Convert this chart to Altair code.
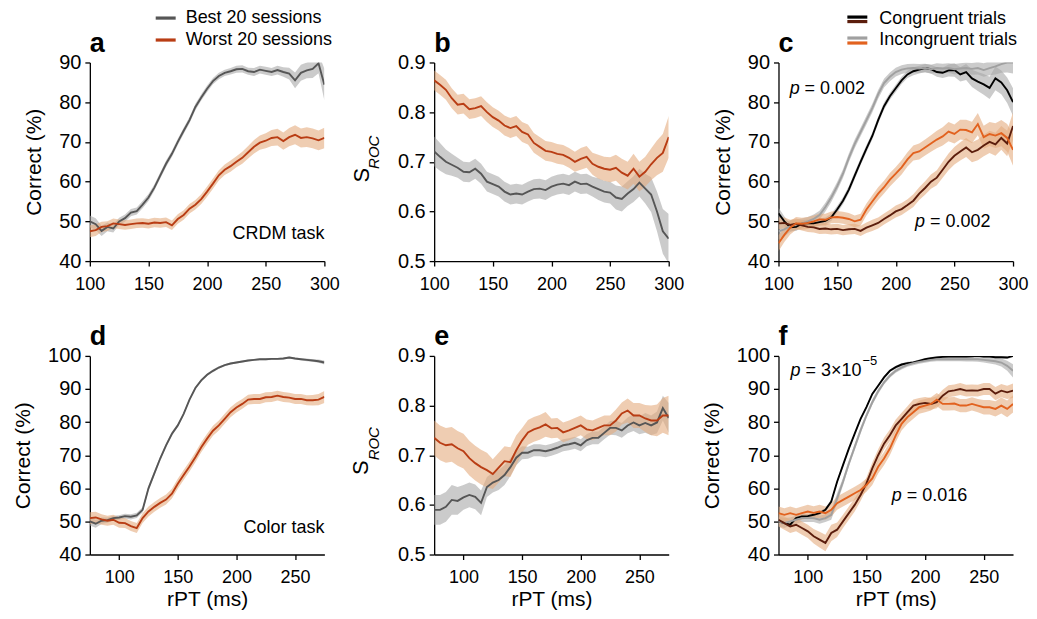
import altair as alt
import pandas as pd

FONT = "Liberation Sans"
W, H = 235, 199

X_TOP = list(range(100, 301, 5))
X_BOT = list(range(75, 276, 5))

# ---------- panel a (CRDM, correct %) ----------
A_BEST = [50, 49.3, 47.6, 48.6, 48.2, 50, 50.8, 52.2, 52.6, 54.2, 56, 58.5, 61.5, 64.5, 67, 70, 72.8, 75.5,
          78.8, 81.2, 83.4, 85.3, 86.6, 87.4, 87.8, 88.3, 88.4, 87.8, 87.6, 88.2, 87.9, 87.6, 88.1, 87.6, 87.2,
          85.5, 87.4, 88, 88.4, 89.8, 84.4]
A_BEST_E = [1.5, 1.5, 1.3, 1.1, 1.0, 0.9, 0.9, 0.9, 0.9, 0.9, 0.9, 0.8, 0.8, 0.8, 0.8, 0.8, 0.8, 0.8, 0.8, 0.8,
            0.8, 0.8, 0.8, 0.8, 0.8, 0.9, 0.9, 0.9, 1.0, 1.0, 1.0, 1.0, 1.1, 1.2, 1.5, 2.0, 2.0, 2.0, 2.3, 2.5, 4.0]
A_WORST = [47.5, 47.8, 48.6, 48.8, 49.5, 49.3, 49.1, 49.3, 49.5, 49.6, 49.4, 49.7, 49.6, 49.8, 49.0, 50.6, 51.6,
           53.2, 54.2, 55.6, 57.5, 59.5, 61.6, 63, 63.9, 65, 66, 67.4, 68.8, 69.8, 70.3, 71, 71.2, 70.2, 71.2,
           71.8, 71, 71.2, 70.9, 70.4, 71]
A_WORST_E = [1.5, 1.5, 1.3, 1.2, 1.2, 1.2, 1.2, 1.2, 1.2, 1.2, 1.2, 1.2, 1.2, 1.2, 1.2, 1.2, 1.2, 1.2, 1.2, 1.2,
             1.3, 1.3, 1.3, 1.3, 1.4, 1.4, 1.5, 1.6, 1.7, 1.8, 1.9, 2.0, 2.1, 2.2, 2.3, 2.4, 2.4, 2.5, 2.5, 2.5, 2.6]

# ---------- panel b (CRDM, S_ROC) ----------
B_WORST = [0.864, 0.855, 0.845, 0.828, 0.815, 0.817, 0.806, 0.808, 0.812, 0.800, 0.790, 0.783, 0.773, 0.768,
           0.772, 0.760, 0.755, 0.738, 0.730, 0.722, 0.720, 0.716, 0.714, 0.708, 0.700, 0.706, 0.710, 0.696,
           0.690, 0.686, 0.684, 0.688, 0.678, 0.672, 0.686, 0.670, 0.680, 0.695, 0.708, 0.718, 0.750]
B_WORST_E = [0.02] * 25 + [0.022, 0.022, 0.022, 0.024, 0.024, 0.025, 0.026, 0.028, 0.028, 0.03, 0.03, 0.03,
                           0.032, 0.035, 0.038, 0.042]
B_BEST = [0.721, 0.710, 0.700, 0.694, 0.688, 0.680, 0.679, 0.686, 0.676, 0.660, 0.655, 0.650, 0.640, 0.634,
          0.636, 0.634, 0.640, 0.645, 0.646, 0.643, 0.650, 0.654, 0.656, 0.653, 0.660, 0.655, 0.656, 0.650,
          0.645, 0.640, 0.638, 0.628, 0.625, 0.636, 0.645, 0.658, 0.646, 0.634, 0.600, 0.560, 0.545]
B_BEST_E = [0.03, 0.028, 0.025, 0.022] + [0.02] * 24 + [0.022, 0.022, 0.022, 0.024, 0.025, 0.025, 0.026,
                                                        0.028, 0.03, 0.035, 0.04, 0.045, 0.05]

# ---------- panel c (CRDM, congruent / incongruent) ----------
C_BEST_CON = [52, 50, 48.5, 48.6, 49.4, 49.6, 49.5, 49.8, 50.1, 51, 53, 55.2, 58, 61.5, 65, 68.3, 71.5, 75.5,
              79, 81.5, 83.5, 85.5, 87, 87.8, 88.2, 88.6, 88.3, 87.6, 87.4, 88, 88.1, 87, 87.6, 86, 85.2, 84.5,
              83.6, 86, 85, 83, 80]
C_BEST_CON_E = [1.5, 1.2, 1, 1] + [0.9] * 19 + [1, 1, 1, 1.1, 1.2, 1.3, 1.5, 1.7, 1.8, 2, 2.2, 2.4, 2.6, 2.8,
                                                3, 3, 3.2, 3.5]
C_BEST_INC = [47.5, 48, 48.8, 49.2, 49.5, 50, 50.6, 51.6, 53.6, 56, 58.8, 62, 66, 69.5, 72.5, 75.5, 78.5, 82,
              84.8, 86.4, 87.6, 88.2, 88.5, 88.6, 88.5, 88.6, 88.3, 88.6, 88.5, 88.6, 88.3, 88.5, 88.6, 88.4,
              88.6, 88.1, 88.6, 89, 89.6, 90, 90]
C_BEST_INC_E = [2, 1.8, 1.5, 1.3, 1.2] + [1.1] * 22 + [1.2, 1.2, 1.2, 1.3, 1.3, 1.4, 1.5, 1.6, 1.7, 1.8, 2,
                                                       2.2, 2.5, 2.8]
C_WORST_CON = [49.5, 49.6, 49.1, 49.4, 49, 48.6, 48.5, 48.1, 48.2, 48, 48.1, 47.8, 48, 48.1, 47.6, 48.4, 49,
               49.6, 50.6, 51.5, 52.5, 53.1, 54.1, 55.2, 57, 58.4, 60, 61, 63, 65, 66.5, 67.6, 68.6, 67.4, 68,
               69.1, 70, 69.4, 71, 69.6, 74]
C_WORST_CON_E = [1.5, 1.4] + [1.3] * 14 + [1.4, 1.4, 1.4, 1.4, 1.5, 1.5, 1.5, 1.6, 1.6, 1.7, 1.8, 1.9, 2, 2.1,
                                           2.2, 2.3, 2.4, 2.5, 2.6, 2.7, 2.8, 2.9, 3, 3.2, 3.5]
C_WORST_INC = [44.5, 46.6, 48.4, 49.5, 49.4, 49.6, 50, 50.5, 50.4, 51, 51.1, 50.9, 50.6, 50, 50.4, 53, 55, 57,
               58.6, 60.5, 62, 63.6, 65.6, 67.2, 67.6, 68.6, 69.6, 70.6, 71.4, 72.6, 72, 73.1, 73, 72.4, 74.5,
               71.2, 72, 71.6, 72.2, 71, 68]
C_WORST_INC_E = [2, 1.8, 1.7, 1.6] + [1.5] * 12 + [1.6, 1.6, 1.6, 1.7, 1.7, 1.8, 1.8, 1.9, 2, 2, 2.1, 2.2, 2.3,
                                                  2.4, 2.4, 2.5, 2.6, 2.7, 2.8, 2.9, 3, 3.1, 3.3, 3.5, 4]

# ---------- panel d (Color, correct %) ----------
D_BEST = [50, 49.3, 50.2, 50.4, 51, 51.2, 51.6, 51.4, 51.8, 53.5, 60, 64.5, 69, 73, 76.5, 79, 82.5, 86.8, 90.3,
          92.6, 94.3, 95.5, 96.5, 97.2, 97.7, 98, 98.3, 98.6, 98.8, 99, 99, 99.1, 99.1, 99.2, 99.5, 99.2, 99,
          98.8, 98.6, 98.4, 98]
D_BEST_E = [1.2, 1.2, 1, 0.8, 0.7, 0.7, 0.7, 0.8, 0.8, 0.8, 0.8, 0.7, 0.6, 0.6, 0.6, 0.5, 0.5] + [0.4] * 6 + \
           [0.3] * 14 + [0.4, 0.4, 0.5, 0.6]
D_WORST = [51, 51.2, 50.6, 50.2, 50.5, 49.6, 49.5, 48.6, 48, 51, 53, 54.4, 55.6, 56.6, 58.4, 61.4, 64, 66.6,
           69.4, 72.4, 75, 77.4, 79, 81, 83, 84.4, 85.5, 86.8, 87, 87, 87.5, 87.6, 88, 87.6, 87.4, 87, 87, 86.6,
           86.6, 86.8, 87.6]
D_WORST_E = [1.8, 1.7, 1.6] + [1.5] * 35 + [1.6, 1.7, 1.8]

# ---------- panel e (Color, S_ROC) ----------
E_WORST = [0.735, 0.725, 0.720, 0.722, 0.714, 0.708, 0.694, 0.684, 0.676, 0.670, 0.662, 0.675, 0.688, 0.686,
           0.710, 0.730, 0.746, 0.752, 0.756, 0.762, 0.754, 0.755, 0.746, 0.750, 0.755, 0.760, 0.752, 0.750,
           0.755, 0.760, 0.760, 0.770, 0.784, 0.790, 0.780, 0.780, 0.774, 0.770, 0.770, 0.780, 0.780]
E_WORST_E = [0.035] * 10 + [0.03] * 5 + [0.025] * 5 + [0.02] * 11 + [0.022, 0.022, 0.024, 0.025, 0.025, 0.027,
                                                                   0.03, 0.032, 0.035, 0.04]
E_BEST = [0.590, 0.590, 0.596, 0.610, 0.608, 0.615, 0.620, 0.616, 0.604, 0.636, 0.645, 0.650, 0.660, 0.676,
          0.695, 0.705, 0.705, 0.710, 0.710, 0.708, 0.711, 0.715, 0.720, 0.722, 0.725, 0.720, 0.730, 0.735,
          0.735, 0.745, 0.755, 0.755, 0.750, 0.760, 0.766, 0.760, 0.765, 0.760, 0.766, 0.795, 0.775]
E_BEST_E = [0.03, 0.03, 0.03, 0.03, 0.028, 0.025, 0.025, 0.025, 0.025, 0.02, 0.02, 0.02, 0.02, 0.018, 0.015,
            0.013] + [0.012] * 11 + [0.013, 0.013, 0.013, 0.014, 0.015, 0.015, 0.016, 0.017, 0.018, 0.02, 0.02,
                                     0.022, 0.025, 0.03]

# ---------- panel f (Color, congruent / incongruent) ----------
F_BEST_CON = [50, 49.5, 49, 51, 51.5, 51.6, 52, 52.5, 53.5, 56, 62, 67, 72, 76.5, 81, 84.5, 88.5, 91, 93.5,
              95.5, 96.6, 97.4, 97.8, 98, 98.5, 99, 99.3, 99.5, 99.7, 99.8, 99.8, 99.8, 99.8, 99.9, 100, 99.8,
              99.8, 99.6, 99.6, 99.5, 100]
F_BEST_CON_E = [0.6] * 12 + [0.4] * 29
F_BEST_INC = [50, 49.5, 50, 50.5, 51, 51, 51, 50.5, 51, 52, 57, 62, 67.5, 72.5, 77.5, 82, 86, 89.3, 92, 94,
              95.5, 96.5, 97.3, 97.8, 98.2, 98.5, 98.8, 99, 99, 99, 99, 99, 99, 99, 99, 98.8, 98.6, 98.4, 98, 97,
              95.5]
F_BEST_INC_E = [1.5, 1.5] + [1.2] * 7 + [1.5, 1.5, 1.2, 1, 1, 1, 0.8, 0.8, 0.8] + [0.6] * 14 + \
               [0.7, 0.7, 0.8, 0.8, 0.9, 1, 1.2, 1.5, 2]
F_WORST_CON = [50.5, 49.5, 48.5, 49, 48, 47, 45.5, 44.5, 43.5, 46.5, 47.5, 50, 52.5, 55, 58, 61.5, 66, 70, 73.5,
               76, 79, 81, 83, 85, 85.5, 85.8, 85.5, 86, 88, 89.3, 89.6, 90, 89.5, 89.6, 89.5, 90, 90, 88.6,
               89.5, 89, 89.5]
F_WORST_CON_E = [2] * 6 + [2.2, 2.4, 2.5, 2.5, 2.2, 2, 2, 2] + [1.8] * 23 + [2, 2, 2, 2.2]
F_WORST_INC = [52.5, 52, 52.5, 52, 52.5, 53, 52.6, 53, 52.5, 53.5, 55.5, 56.5, 57.5, 58.5, 59.5, 61, 63, 66.5,
               69, 72, 76, 79.5, 81.5, 83, 84.5, 85, 85.5, 86.8, 85.5, 85.5, 85.6, 85, 85, 85.5, 85, 84.5, 84.5,
               84, 85, 84, 85.5]
F_WORST_INC_E = [2] * 35 + [2.2, 2.2, 2.3, 2.4, 2.5, 2.6]

# ---------- colours ----------
GRAY_LINE = "#565656"
RED_LINE = "#b93d14"
BLACK = "#000000"
LGRAY = "#a0a0a0"
BROWN = "#5b1d0c"
ORANGE = "#e2621f"
GRAY_BAND = "#a8a8a8"
PEACH_BAND = "#e4ab7e"


def make_df(xs, ys, hw):
    return pd.DataFrame({
        "x": xs,
        "y": ys,
        "lo": [round(y - h, 4) for y, h in zip(ys, hw)],
        "hi": [round(y + h, 4) for y, h in zip(ys, hw)],
    })


def one(**kw):
    return pd.DataFrame({k: [v] for k, v in kw.items()})


def note(x, y, t, dx=0, dy=0, size=18, italic=False, align="left"):
    return dict(x=x, y=y, t=t, dx=dx, dy=dy, size=size, italic=italic, align=align)


def pix_text(px, py, txt, size=18, italic=False, angle=0, align="left"):
    kw = dict(fontSize=size, fontStyle="italic" if italic else "normal", align=align,
              baseline="middle", font=FONT, color="black")
    if angle:
        kw["angle"] = angle
    return alt.Chart(one(t=txt)).mark_text(**kw).encode(x=alt.value(px), y=alt.value(py), text="t:N")


def pix_rule(x1, x2, py, color):
    return alt.Chart(one(t=0)).mark_rule(color=color, strokeWidth=3.2).encode(
        x=alt.value(x1), x2=alt.value(x2), y=alt.value(py))


def panel(series, xs, xdom, xvals, ydom, yvals, yfmt, ytitle, xtitle, letter, notes=(), extras=()):
    xsc = alt.Scale(domain=xdom, nice=False, zero=False)
    ysc = alt.Scale(domain=ydom, nice=False, zero=False)
    xax = alt.Axis(values=xvals, title=xtitle, format="d")
    yax = alt.Axis(values=yvals, title=ytitle, format=yfmt)

    def X():
        return alt.X("x:Q", scale=xsc, axis=xax)

    def Y(f):
        return alt.Y(f + ":Q", scale=ysc, axis=yax)

    bands, lines = [], []
    for ys, hw, lc, bc in series:
        df = make_df(xs, ys, hw)
        bands.append(alt.Chart(df).mark_area(color=bc, opacity=0.6, clip=True)
                     .encode(x=X(), y=Y("lo"), y2="hi:Q"))
        lines.append(alt.Chart(df).mark_line(color=lc, strokeWidth=1.9, clip=True)
                     .encode(x=X(), y=Y("y")))
    layers = bands + lines
    for n in notes:
        layers.append(alt.Chart(one(x=n["x"], y=n["y"], t=n["t"])).mark_text(
            fontSize=n["size"], align=n["align"], baseline="middle", font=FONT,
            fontStyle="italic" if n["italic"] else "normal", color="black", dx=n["dx"], dy=n["dy"])
            .encode(x=X(), y=Y("y"), text="t:N"))
    layers.append(alt.Chart(one(t=letter)).mark_text(
        fontSize=27, fontWeight="bold", align="left", baseline="alphabetic", font=FONT, color="black")
        .encode(x=alt.value(0), y=alt.value(-11), text="t:N"))
    layers += list(extras)
    return alt.layer(*layers).properties(width=W, height=H)


TOPX = [100, 150, 200, 250, 300]
BOTX = [100, 150, 200, 250]
DT = [100, 300]
DB = [75, 275]
Y_PCT_TOP = [40, 50, 60, 70, 80, 90]
Y_PCT_BOT = [40, 50, 60, 70, 80, 90, 100]
Y_ROC = [0.5, 0.6, 0.7, 0.8, 0.9]

# panel a
pa = panel([(A_BEST, A_BEST_E, GRAY_LINE, GRAY_BAND), (A_WORST, A_WORST_E, RED_LINE, PEACH_BAND)],
           X_TOP, DT, TOPX, [40, 90], Y_PCT_TOP, "d", "Correct (%)", None, "a",
           notes=[note(300, 46.8, "CRDM task", align="right")],
           extras=[pix_rule(66, 86, -44.5, GRAY_LINE), pix_text(96, -44.5, "Best 20 sessions"),
                   pix_rule(66, 86, -22.5, RED_LINE), pix_text(96, -22.5, "Worst 20 sessions")])

# panel b
pb = panel([(B_BEST, B_BEST_E, GRAY_LINE, GRAY_BAND), (B_WORST, B_WORST_E, RED_LINE, PEACH_BAND)],
           X_TOP, DT, TOPX, [0.5, 0.9], Y_ROC, ".1f", None, None, "b",
           extras=[pix_text(-72, 113, "S", size=22, angle=270, align="center"),
                   pix_text(-60, 90, "ROC", size=15, italic=True, angle=270, align="center")])

# panel c
pc = panel([(C_BEST_CON, C_BEST_CON_E, BLACK, GRAY_BAND), (C_BEST_INC, C_BEST_INC_E, LGRAY, GRAY_BAND),
            (C_WORST_CON, C_WORST_CON_E, BROWN, PEACH_BAND), (C_WORST_INC, C_WORST_INC_E, ORANGE, PEACH_BAND)],
           X_TOP, DT, TOPX, [40, 90], Y_PCT_TOP, "d", "Correct (%)", None, "c",
           notes=[note(109.5, 83.2, "p", italic=True), note(109.5, 83.2, "= 0.002", dx=15),
                  note(216.5, 49.8, "p", italic=True), note(216.5, 49.8, "= 0.002", dx=15)],
           extras=[pix_rule(69, 89, -45.5, BLACK), pix_rule(69, 89, -41, BROWN),
                   pix_text(101, -44, "Congruent trials"),
                   pix_rule(69, 89, -24.5, LGRAY), pix_rule(69, 89, -19.5, ORANGE),
                   pix_text(101, -23, "Incongruent trials")])

# panel d
pd_ = panel([(D_BEST, D_BEST_E, GRAY_LINE, GRAY_BAND), (D_WORST, D_WORST_E, RED_LINE, PEACH_BAND)],
            X_BOT, DB, BOTX, [40, 100], Y_PCT_BOT, "d", "Correct (%)", "rPT (ms)", "d",
            notes=[note(275, 48, "Color task", align="right")])

# panel e
pe = panel([(E_BEST, E_BEST_E, GRAY_LINE, GRAY_BAND), (E_WORST, E_WORST_E, RED_LINE, PEACH_BAND)],
           X_BOT, DB, BOTX, [0.5, 0.9], Y_ROC, ".1f", None, "rPT (ms)", "e",
           extras=[pix_text(-73, 112, "S", size=22, angle=270, align="center"),
                   pix_text(-60, 88, "ROC", size=15, italic=True, angle=270, align="center")])

# panel f
pf = panel([(F_BEST_CON, F_BEST_CON_E, BLACK, GRAY_BAND), (F_BEST_INC, F_BEST_INC_E, LGRAY, GRAY_BAND),
            (F_WORST_CON, F_WORST_CON_E, BROWN, PEACH_BAND), (F_WORST_INC, F_WORST_INC_E, ORANGE, PEACH_BAND)],
           X_BOT, DB, BOTX, [40, 100], Y_PCT_BOT, "d", "Correct (%)", "rPT (ms)", "f",
           notes=[note(85.3, 95.5, "p", italic=True), note(85.3, 95.5, "= 3×10", dx=15),
                  note(85.3, 95.5, "−5", dx=72, dy=-10, size=13),
                  note(171.6, 57.8, "p", italic=True), note(171.6, 57.8, "= 0.016", dx=15)])

chart = alt.concat(pa, pb, pc, pd_, pe, pf, columns=3, spacing={"row": 95, "column": 110},
                   bounds="flush").resolve_scale(x="independent", y="independent").properties(
    padding={"left": 4, "top": 0, "right": 0, "bottom": 0}
).configure_view(stroke=None).configure_axis(
    domainColor="black", domainWidth=1.3, tickColor="black", tickWidth=1.3, tickSize=5,
    labelFont=FONT, labelColor="black", titleFont=FONT, titleFontSize=21,
    titleFontWeight="normal", titleColor="black", grid=False, labelOverlap=False, labelFlush=False
).configure_axisX(labelPadding=9, titlePadding=2, labelFontSize=18).configure_axisY(
    labelPadding=4, titlePadding=14, labelFontSize=20)

chart.save("out.html", embed_options={"renderer": "svg", "actions": False})
